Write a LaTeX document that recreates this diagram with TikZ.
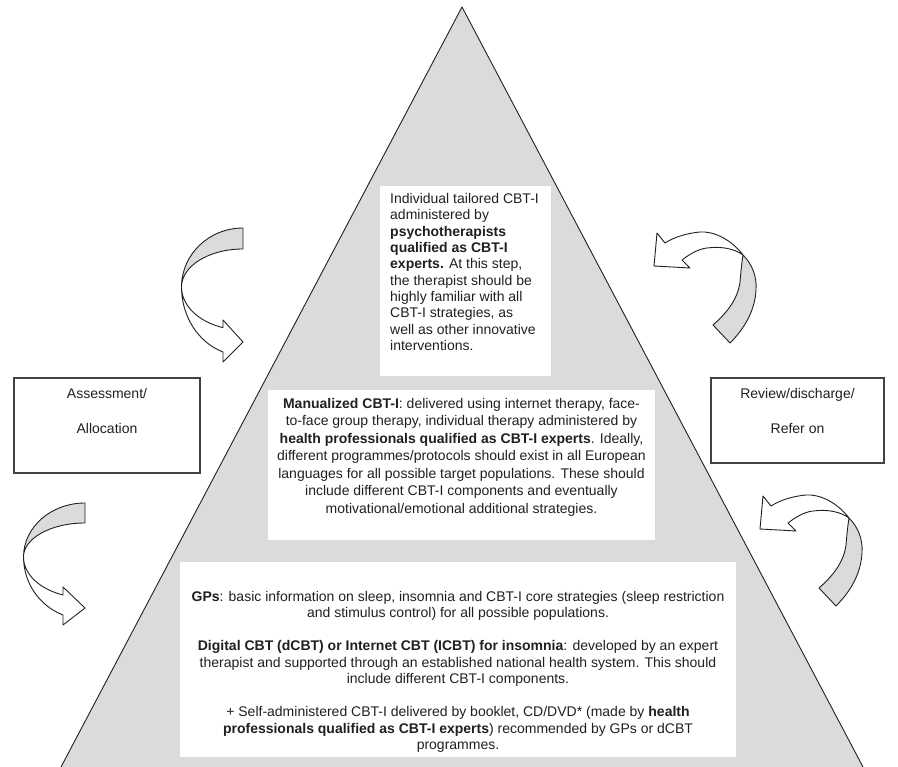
\documentclass[tikz,border=0pt]{standalone}
\usepackage{fontspec}
\setmainfont{Liberation Sans}
\definecolor{tri}{RGB}{218,219,221}
\definecolor{ink}{RGB}{35,31,32}
\begin{document}
\begin{tikzpicture}[x=1pt,y=-1pt,
  outline/.style={draw=ink,line width=0.9pt,line join=round},
  labelbox/.style={draw=ink!85,line width=1.1pt,fill=white},
  txt/.style={font=\fontsize{14}{16.3}\selectfont,text=ink,inner sep=0pt},
]
\useasboundingbox (0,0) rectangle (898,767);
% pyramid
\coordinate (apex) at (462,7);
\coordinate (bl) at (61,767);
\coordinate (br) at (863,767);
\fill[tri] (bl) -- (apex) -- (br) -- cycle;
\draw[outline] (bl) -- (apex) -- (br);
% white panels
\fill[white] (380,186) rectangle (551,376);
\fill[white] (268,390) rectangle (655,540);
\fill[white] (180,562) rectangle (736,757);
% texts on the pyramid
\node[txt,align=left,anchor=west] (toptext) at (390,272) {Individual tailored CBT-I\\administered by\\\textbf{psychotherapists}\\\textbf{qualified as CBT-I}\\\textbf{experts.} At this step,\\the therapist should be\\highly familiar with all\\CBT-I strategies, as\\well as other innovative\\interventions.};
\node[txt,align=center,font=\fontsize{14}{17.5}\selectfont] (midtext) at (461.5,457) {\textbf{Manualized CBT-I}: delivered using internet therapy, face-\\to-face group therapy, individual therapy administered by\\\textbf{health professionals qualified as CBT-I experts}. Ideally,\\different programmes/protocols should exist in all European\\languages for all possible target populations. These should\\include different CBT-I components and eventually\\motivational/emotional additional strategies.};
\node[txt,align=center,font=\fontsize{14}{16.5}\selectfont] (bottext) at (458,672) {\textbf{GPs}: basic information on sleep, insomnia and CBT-I core strategies (sleep restriction\\and stimulus control) for all possible populations.\\[16.5pt]\textbf{Digital CBT (dCBT) or Internet CBT (ICBT) for insomnia}: developed by an expert\\therapist and supported through an established national health system. This should\\include different CBT-I components.\\[16.5pt]+ Self-administered CBT-I delivered by booklet, CD/DVD* (made by \textbf{health}\\\textbf{professionals qualified as CBT-I experts}) recommended by GPs or dCBT\\programmes.};
% side boxes
\draw[labelbox] (14,378) rectangle (200,473);
\node[txt,align=center] (assess) at (107,410.5) {Assessment/\\[18.7pt]Allocation};
\draw[labelbox] (711,378) rectangle (884,463);
\node[txt,align=center] (review) at (797.5,410.5) {Review/discharge/\\[18.7pt]Refer on};
% arrow A (upper left)
\filldraw[outline,fill=tri] (243,228) arc[start angle=270,end angle=180,x radius=61.5,y radius=59] arc[start angle=180,end angle=270,x radius=61.5,y radius=38] -- cycle;
\filldraw[outline,fill=white] (181.5,287) arc[start angle=180,end angle=109,x radius=61.5,y radius=43] -- (223,320) -- (243,342) -- (223,362) -- (223,352) arc[start angle=109,end angle=180,x radius=61.5,y radius=68.7] -- cycle;
% arrow C (lower left)
\filldraw[outline,fill=tri] (85,503) arc[start angle=270,end angle=180,x radius=61.5,y radius=54] arc[start angle=180,end angle=270,x radius=61.5,y radius=34] -- cycle;
\filldraw[outline,fill=white] (23.5,557) arc[start angle=180,end angle=111,x radius=61.5,y radius=40.7] -- (63,587) -- (85,608) -- (63,625) -- (63,615) arc[start angle=111,end angle=180,x radius=61.5,y radius=62] -- cycle;
% arrow B (upper right)
\filldraw[outline,fill=tri] (743,255) .. controls (752,264) and (757,276) .. (756,290) .. controls (755,310) and (745,328) .. (730,343) -- (713,325) .. controls (728,312) and (738,298) .. (740,282) .. controls (741,270) and (742,261) .. (743,255) -- cycle;
\filldraw[outline,fill=white] (743,255) .. controls (730,238) and (712,231) .. (700,232) .. controls (688,233) and (674,237) .. (665,243) -- (657,233) -- (654,266) -- (690,268) -- (682,260) .. controls (690,254) and (698,249) .. (707,248) .. controls (722,246) and (735,249) .. (743,255) -- cycle;
% arrow D (lower right)
\begin{scope}[shift={(106,263)}]
\filldraw[outline,fill=tri] (743,255) .. controls (752,264) and (757,276) .. (756,290) .. controls (755,310) and (745,328) .. (730,343) -- (713,325) .. controls (728,312) and (738,298) .. (740,282) .. controls (741,270) and (742,261) .. (743,255) -- cycle;
\filldraw[outline,fill=white] (743,255) .. controls (730,238) and (712,231) .. (700,232) .. controls (688,233) and (674,237) .. (665,243) -- (657,233) -- (654,266) -- (690,268) -- (682,260) .. controls (690,254) and (698,249) .. (707,248) .. controls (722,246) and (735,249) .. (743,255) -- cycle;
\end{scope}
\end{tikzpicture}
\end{document}
